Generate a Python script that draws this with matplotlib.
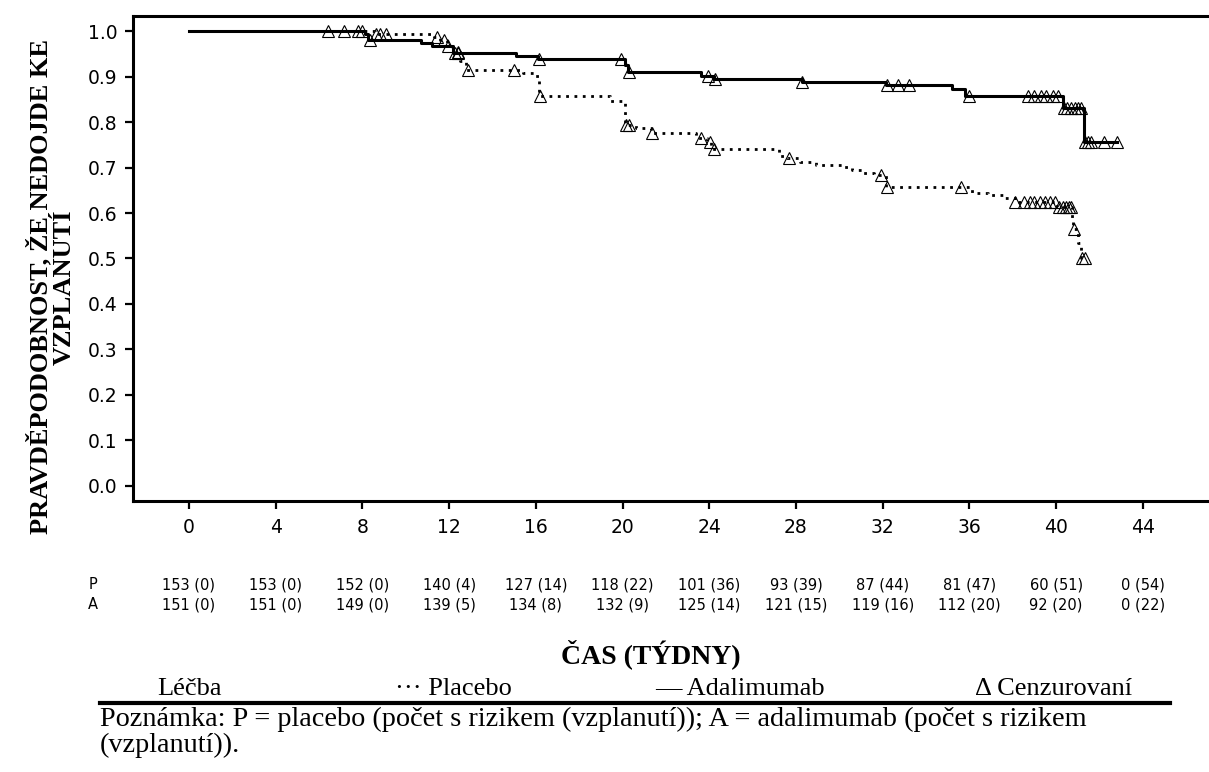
import numpy as np
import matplotlib
matplotlib.use("Agg")
import matplotlib.pyplot as plt
from matplotlib.lines import Line2D

# Kaplan-Meier steps: time of event (weeks) and survival after it
ada_time = [0, 8.1, 8.25, 10.7, 11.2, 12.2, 15.1, 16.1, 20.1, 20.25, 23.6, 24.2,
            28.3, 32.15, 35.2, 35.8, 40.3, 41.3]
ada_surv = [1.0, 0.993, 0.980, 0.973, 0.967, 0.951, 0.944, 0.938, 0.925, 0.911,
            0.902, 0.894, 0.889, 0.881, 0.873, 0.857, 0.830, 0.755]
ada_end = 42.8
ada_cens = [7.8, 8.35, 11.96, 12.25, 12.42, 16.15, 19.95, 20.3, 23.95, 24.25, 28.3,
            32.2, 32.7, 33.2, 36.0, 38.7, 39.0, 39.3, 39.55, 39.84, 40.1, 40.35,
            40.5, 40.7, 40.85, 41.0, 41.15, 41.35, 41.45, 41.6, 42.2, 42.8]

pla_time = [0, 8.6, 11.3, 11.6, 11.9, 12.2, 12.5, 12.8, 15.4, 15.9, 16.15, 19.4,
            20.1, 20.6, 21.3, 23.4, 23.9, 24.1, 27.2, 27.6, 28.2, 28.9, 30.2, 30.6,
            31.1, 31.6, 32.15, 36.1, 36.85, 37.55, 38.1, 40.05, 40.75, 40.8, 41.0, 41.15]
pla_surv = [1.0, 0.993, 0.987, 0.980, 0.967, 0.954, 0.934, 0.914, 0.908, 0.901,
            0.857, 0.847, 0.793, 0.786, 0.775, 0.764, 0.757, 0.740, 0.726, 0.721,
            0.713, 0.705, 0.702, 0.695, 0.687, 0.684, 0.658, 0.643, 0.640, 0.632,
            0.625, 0.614, 0.585, 0.564, 0.533, 0.500]
pla_end = 41.35
pla_cens = [6.4, 7.15, 7.97, 8.65, 8.8, 9.1, 11.45, 11.75, 12.4, 12.85, 15.0,
            16.2, 20.15, 20.3, 21.35, 23.6, 24.05, 24.2, 27.7, 31.9, 32.2, 35.6,
            38.1, 38.5, 38.8, 39.0, 39.25, 39.5, 39.7, 39.95, 40.15, 40.3, 40.45,
            40.6, 40.7, 40.82, 41.2, 41.35]

# number at risk (events) table
risk_weeks = [0, 4, 8, 12, 16, 20, 24, 28, 32, 36, 40, 44]
p_at_risk = [153, 153, 152, 140, 127, 118, 101, 93, 87, 81, 60, 0]
p_events = [0, 0, 0, 4, 14, 22, 36, 39, 44, 47, 51, 54]
a_at_risk = [151, 151, 149, 139, 134, 132, 125, 121, 119, 112, 92, 0]
a_events = [0, 0, 0, 5, 8, 9, 14, 15, 16, 20, 20, 22]

y_ticks = [0.0, 0.1, 0.2, 0.3, 0.4, 0.5, 0.6, 0.7, 0.8, 0.9, 1.0]
x_ticks = risk_weeks

serif = ["Liberation Serif", "DejaVu Serif"]


def surv_at(times, surv, t):
    i = np.searchsorted(times, t, side="right") - 1
    return np.asarray(surv)[i]


W, H = 1209, 772
fig = plt.figure(figsize=(W / 100, H / 100), dpi=100)
ax = fig.add_axes([133 / W, 1 - 501 / H, (W - 133) / W, (501 - 16) / H])

# placebo: dotted, adalimumab: solid
ax.step(pla_time + [pla_end], pla_surv + [pla_surv[-1]], where="post",
        color="black", lw=2.0, linestyle=(0, (1, 2)), zorder=2)
ax.step(ada_time + [ada_end], ada_surv + [ada_surv[-1]], where="post",
        color="black", lw=2.2, zorder=3)

ax.plot(pla_cens, surv_at(pla_time, pla_surv, np.array(pla_cens)), "^",
        ms=9, mfc="none", mec="black", mew=0.8, zorder=4)
ax.plot(ada_cens, surv_at(ada_time, ada_surv, np.array(ada_cens)), "^",
        ms=9, mfc="none", mec="black", mew=0.8, zorder=4)

ax.set_xlim(-2.58, 47.05)
ax.set_ylim(-0.033, 1.033)
ax.set_xticks(x_ticks)
ax.set_yticks(y_ticks)
ax.set_yticklabels([f"{v:.1f}" for v in y_ticks])
ax.tick_params(direction="out", length=6, width=1.6, labelsize=13.5)
ax.tick_params(axis="x", pad=6)
ax.tick_params(axis="y", pad=5)
for side in ["left", "top", "bottom"]:
    ax.spines[side].set_linewidth(2.2)
ax.spines["right"].set_visible(False)

# at-risk rows under the axis
tr = ax.get_xaxis_transform()
for row_y, name, n, ev in [(-0.173, "P", p_at_risk, p_events),
                           (-0.214, "A", a_at_risk, a_events)]:
    ax.text(-4.43, row_y, name, transform=tr, ha="center", va="center",
            fontsize=10.5, clip_on=False)
    for wk, a, e in zip(risk_weeks, n, ev):
        ax.text(wk, row_y, f"{a} ({e})", transform=tr, ha="center", va="center",
                fontsize=10.5, clip_on=False)

# axis titles
fig.text(651 / W, 1 - 663 / H, "ČAS (TÝDNY)", family=serif, weight="bold",
         fontsize=20, ha="center", va="baseline")
fig.text(39 / W, 1 - 287 / H, "PRAVDĚPODOBNOST, ŽE NEDOJDE KE", family=serif,
         weight="bold", fontsize=19, rotation=90, ha="center", va="center")
fig.text(64 / W, 1 - 287 / H, "VZPLANUTÍ", family=serif,
         weight="bold", fontsize=19, rotation=90, ha="center", va="center")

# legend row and footnote
for x0, label in [(157, "Léčba"), (395, "··· Placebo"), (655, "— Adalimumab"),
                  (975, "Δ Cenzurovaní")]:
    fig.text(x0 / W, 1 - 695 / H, label, family=serif, fontsize=19,
             ha="left", va="baseline")
fig.add_artist(Line2D([100 / W, 1170 / W], [1 - 703 / H, 1 - 703 / H],
                      transform=fig.transFigure, color="black", lw=3))
fig.text(100 / W, 1 - 726 / H,
         "Poznámka: P = placebo (počet s rizikem (vzplanutí)); "
         "A = adalimumab (počet s rizikem", family=serif, fontsize=20.3,
         ha="left", va="baseline")
fig.text(100 / W, 1 - 752 / H, "(vzplanutí)).", family=serif, fontsize=20.3,
         ha="left", va="baseline")

plt.savefig("out.png", dpi=100)
